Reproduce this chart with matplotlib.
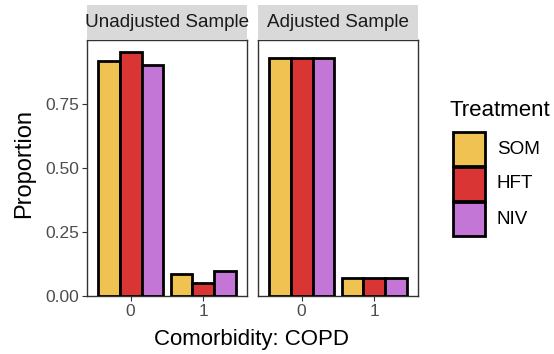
import matplotlib.pyplot as plt
import matplotlib.patches as patches
import numpy as np

plt.rcParams['font.family'] = ['Liberation Sans', 'DejaVu Sans']

categories = ['0', '1']
treatments = ['SOM', 'HFT', 'NIV']
colors = ['#F0C251', '#D93535', '#C476D6']
panels = ['Unadjusted Sample', 'Adjusted Sample']

unadjusted = {
    'SOM': [0.915, 0.085],
    'HFT': [0.951, 0.049],
    'NIV': [0.902, 0.098],
}
adjusted = {
    'SOM': [0.928, 0.072],
    'HFT': [0.928, 0.072],
    'NIV': [0.928, 0.072],
}
panel_data = [unadjusted, adjusted]

W, H = 554, 354
fig = plt.figure(figsize=(W / 100, H / 100), dpi=100)


def px_axes(x0, y0, x1, y1):
    # pixel box (top-left origin) -> figure fraction
    return fig.add_axes([x0 / W, 1 - y1 / H, (x1 - x0) / W, (y1 - y0) / H])


panel_x = [(87, 247), (258, 418)]
top, bottom = 40, 296
ymax = 0.951 * 1.05

for p, (x0, x1) in enumerate(panel_x):
    ax = px_axes(x0, top, x1, bottom)
    data = panel_data[p]
    pos = np.arange(len(categories)) + 1
    w = 0.9 / len(treatments)
    for i, t in enumerate(treatments):
        ax.bar(pos - 0.45 + w * (i + 0.5), data[t], width=w, color=colors[i],
               edgecolor='black', linewidth=2, zorder=3)
    ax.set_xlim(0.4, 2.6)
    ax.set_ylim(0, ymax)
    ax.set_xticks(pos)
    ax.set_xticklabels(categories)
    ax.set_yticks([0, 0.25, 0.5, 0.75])
    ax.tick_params(axis='both', colors='#333333', labelcolor='#4D4D4D',
                   labelsize=12.5, length=3.5, width=0.8, pad=2)
    if p == 0:
        ax.set_yticklabels(['0.00', '0.25', '0.50', '0.75'])
    else:
        ax.set_yticklabels([])
        ax.tick_params(axis='y', length=0)
    for s in ax.spines.values():
        s.set_color('#333333')
        s.set_linewidth(1.0)

    # facet strip
    sax = px_axes(x0, 5, x1, top)
    sax.set_facecolor('#D9D9D9')
    sax.set_xticks([])
    sax.set_yticks([])
    for s in sax.spines.values():
        s.set_visible(False)
    sax.text(0.5, 0.5, panels[p], ha='center', va='center', fontsize=13.6,
             color='#1A1A1A', transform=sax.transAxes)

fig.text(24 / W, 1 - 164 / H, 'Proportion', rotation=90, ha='center',
         va='center', fontsize=17)
fig.text(252 / W, 1 - 339 / H, 'Comorbidity: COPD', ha='center',
         va='center', fontsize=16)

# legend
fig.text(449 / W, 1 - 110 / H, 'Treatment', ha='left', va='center',
         fontsize=16)
for i, t in enumerate(treatments):
    ky = 132 + i * 35
    fig.patches.append(patches.Rectangle((453 / W, 1 - (ky + 34) / H),
                                         32 / W, 34 / H, facecolor=colors[i],
                                         edgecolor='black', linewidth=2,
                                         transform=fig.transFigure))
    fig.text(497 / W, 1 - (ky + 17) / H, t, ha='left', va='center',
             fontsize=13.6)

fig.savefig('out.png', dpi=100)
